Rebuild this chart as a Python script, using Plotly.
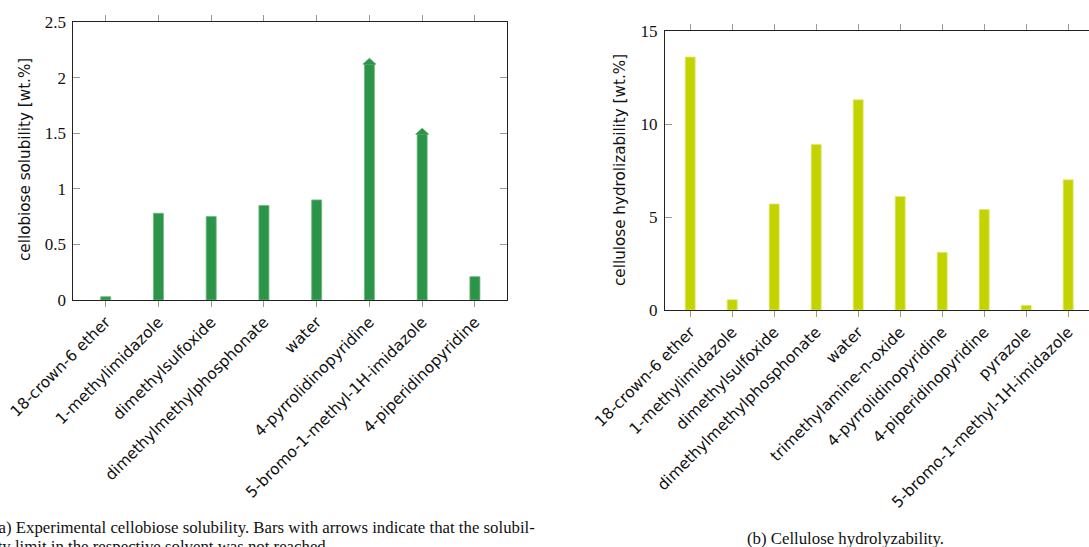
import plotly.graph_objects as go

# ---- data -------------------------------------------------------------
sol_solvents = [
    "18-crown-6 ether", "1-methylimidazole", "dimethylsulfoxide",
    "dimethylmethylphosphonate", "water", "4-pyrrolidinopyridine",
    "5-bromo-1-methyl-1H-imidazole", "4-piperidinopyridine",
]
sol_values = [0.03, 0.78, 0.75, 0.85, 0.90, 2.12, 1.49, 0.21]
# solubility limit not reached -> bar ends with an arrow
sol_open = [False, False, False, False, False, True, True, False]
sol_ticks = [0, 0.5, 1, 1.5, 2, 2.5]
sol_ticklabels = ["0", "0.5", "1", "1.5", "2", "2.5"]

hyd_solvents = [
    "18-crown-6 ether", "1-methylimidazole", "dimethylsulfoxide",
    "dimethylmethylphosphonate", "water", "trimethylamine-n-oxide",
    "4-pyrrolidinopyridine", "4-piperidinopyridine", "pyrazole",
    "5-bromo-1-methyl-1H-imidazole",
]
hyd_values = [13.6, 0.55, 5.7, 8.9, 11.3, 6.1, 3.1, 5.4, 0.25, 7.0]
hyd_ticks = [0, 5, 10, 15]

# ---- style ------------------------------------------------------------
W, H = 1089, 547
GREEN = "rgb(44,148,72)"
GREEN_EDGE = "rgb(110,185,125)"
LIME = "rgb(195,211,0)"
LIME_EDGE = "rgb(222,232,120)"
SANS = "DejaVu Sans"
SERIF = "Liberation Serif"
AXIS_COL = "#222"
TICK_COL = "#9a9a9a"


def px_x(p):
    return p / W


def px_y(p):
    return 1 - p / H


fig = go.Figure()

# left panel: cellobiose solubility
sol_x = list(range(len(sol_solvents)))
fig.add_trace(go.Bar(
    x=sol_x, y=sol_values, width=0.19,
    marker=dict(color=GREEN, line=dict(color=GREEN_EDGE, width=0.8)),
    xaxis="x", yaxis="y", showlegend=False, hoverinfo="skip",
))

# arrow heads on the open-ended bars
head_hw, head_h = 0.125, 0.055
for xi, v, is_open in zip(sol_x, sol_values, sol_open):
    if not is_open:
        continue
    fig.add_trace(go.Scatter(
        x=[xi - head_hw, xi + head_hw, xi, xi - head_hw],
        y=[v, v, v + head_h, v],
        fill="toself", fillcolor=GREEN, mode="lines",
        line=dict(color=GREEN, width=0.5),
        xaxis="x", yaxis="y", showlegend=False, hoverinfo="skip",
    ))

# right panel: cellulose hydrolyzability
hyd_x = list(range(len(hyd_solvents)))
fig.add_trace(go.Bar(
    x=hyd_x, y=hyd_values, width=0.238,
    marker=dict(color=LIME, line=dict(color=LIME_EDGE, width=0.8)),
    xaxis="x2", yaxis="y2", showlegend=False, hoverinfo="skip",
))

cat_font = dict(family=SANS, size=15.5, color="#111")
num_font = dict(family=SERIF, size=17, color="#111")

xcommon = dict(
    showgrid=False, zeroline=False, showline=True, linecolor=AXIS_COL,
    linewidth=1, mirror="ticks", ticks="outside", ticklen=6,
    tickcolor=TICK_COL, tickwidth=1, tickangle=-45, tickfont=cat_font,
    automargin=False, fixedrange=True,
)
ycommon = dict(
    showgrid=False, zeroline=False, showline=True, linecolor=AXIS_COL,
    linewidth=1, ticks="inside", ticklen=7, tickcolor=TICK_COL,
    tickwidth=1, tickfont=num_font, automargin=False, fixedrange=True,
    ticklabelstandoff=3,
)

fig.update_layout(
    width=W, height=H,
    margin=dict(l=0, r=0, t=0, b=0),
    paper_bgcolor="white", plot_bgcolor="white",
    xaxis=dict(
        xcommon, domain=[px_x(73.3), px_x(507.3)],
        range=[-0.614, len(sol_solvents) - 1 + 0.614],
        tickvals=sol_x, ticktext=sol_solvents, anchor="y",
    ),
    yaxis=dict(
        ycommon, domain=[px_y(300), px_y(22)], range=[0, 2.5],
        tickvals=sol_ticks, ticktext=sol_ticklabels, anchor="x",
        mirror="ticks",
    ),
    xaxis2=dict(
        xcommon, domain=[px_x(665), 1.0],
        range=[-0.6, -0.6 + (W - 665) / 42.0],
        tickvals=hyd_x, ticktext=hyd_solvents, anchor="y2",
    ),
    yaxis2=dict(
        ycommon, domain=[px_y(310), px_y(31)], range=[0, 15],
        tickvals=hyd_ticks, anchor="x2", mirror=False,
    ),
)

annotations = [
    dict(text="cellobiose solubility [wt.%]", x=px_x(25), y=px_y(160),
         textangle=-90, font=dict(family=SANS, size=15.2, color="#111")),
    dict(text="cellulose hydrolizability [wt.%]", x=px_x(620), y=px_y(170),
         textangle=-90, font=dict(family=SANS, size=15.2, color="#111")),
    dict(text="(a) Experimental cellobiose solubility. Bars with arrows "
              "indicate that the solubil-",
         x=px_x(-9), y=px_y(527.5), xanchor="left",
         font=dict(family=SERIF, size=16.8, color="#111")),
    dict(text="ity limit in the respective solvent was not reached.",
         x=px_x(-9), y=px_y(546), xanchor="left",
         font=dict(family=SERIF, size=16.8, color="#111")),
    dict(text="(b) Cellulose hydrolyzability.",
         x=px_x(845), y=px_y(538),
         font=dict(family=SERIF, size=16.8, color="#111")),
]
for a in annotations:
    a.update(xref="paper", yref="paper", showarrow=False)
    a.setdefault("xanchor", "center")
    a.setdefault("yanchor", "middle")
fig.update_layout(annotations=annotations)

fig.write_html("out.html", config={"displayModeBar": False})
